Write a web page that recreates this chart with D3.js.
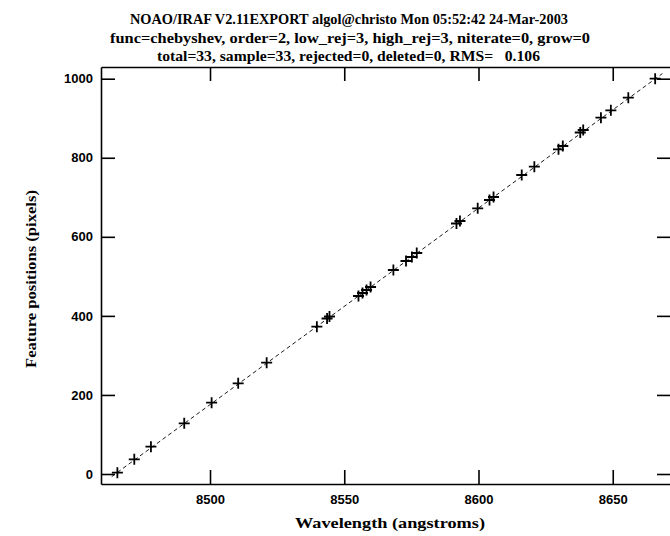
<!DOCTYPE html>
<html lang="en">
    <head>
        <meta charset="utf-8">
        <title>IRAF identify fit</title>
        <script type="text/javascript" src="https://cdn.jsdelivr.net/npm/d3@7"></script>
        <style type="text/css">
            body { margin: 0; background: #fff; }
            .axis path, .axis line { stroke: #000; stroke-width: 1.6; }
            .axis text { font-family: "Liberation Sans", sans-serif; font-weight: bold; font-size: 13px; fill: #000; }
            .fit { fill: none; stroke: #000; stroke-width: 0.9; stroke-dasharray: 4,3; }
            .mark { fill: none; stroke: #000; stroke-width: 1.8; }
            .lbl { font-family: "Liberation Serif", serif; font-weight: bold; font-size: 15.5px; fill: #000; }
        </style>
    </head>
    <body>
        <script type="text/javascript">

        //Width and height
        var w = 670;
        var h = 536;

        //Title lines
        var titleLines = [
            "NOAO/IRAF V2.11EXPORT algol@christo Mon 05:52:42 24-Mar-2003",
            "func=chebyshev, order=2, low_rej=3, high_rej=3, niterate=0, grow=0",
            "total=33, sample=33, rejected=0, deleted=0, RMS=   0.106"
        ];

        //Feature wavelengths (angstroms) and positions (pixels)
        var wavelengths = [8465.5, 8471.8, 8478.0, 8490.4, 8500.6, 8510.5, 8521.1, 8539.8, 8543.6, 8544.5,
                           8555.3, 8556.8, 8558.3, 8559.8, 8568.3, 8573.0, 8575.2, 8577.0, 8591.8, 8593.1,
                           8599.7, 8604.1, 8605.6, 8616.1, 8620.8, 8629.8, 8631.4, 8637.9, 8639.0, 8645.6,
                           8649.3, 8655.8, 8665.8];
        var pixels = [3.3, 37.2, 69.1, 128.3, 180.4, 229.4, 281.6, 372.6, 393.4, 398.4,
                      450.3, 457.9, 465.5, 473.1, 516.1, 538.8, 549.0, 559.1, 633.7, 640.0,
                      672.1, 693.1, 700.7, 756.4, 777.4, 821.4, 829.7, 863.9, 870.2, 901.3,
                      920.1, 951.9, 1000.0];

        //Fitted line end points
        var fitWave = [8463.4, 8668.5];
        var fitPix = [-6.5, 1013];

        //Ticks
        var xTicks = [8500, 8550, 8600, 8650];
        var yTicks = [0, 200, 400, 600, 800, 1000];

        var dataset = wavelengths.map(function(d, i){ return {x: d, y: pixels[i]}; });
        var fitData = fitWave.map(function(d, i){ return {x: d, y: fitPix[i]}; });

        var xScale = d3.scaleLinear()
            .domain([8459.4, 8671.7])
            .range([101, 671]);

        var yScale = d3.scaleLinear()
            .domain([-25.3, 1029.6])
            .range([484, 67]);

        var svg = d3.select("body")
            .append("svg")
            .attr("width", w)
            .attr("height", h);

        //Axes, ticks pointing inward
        svg.append("g")
            .attr("class", "axis")
            .attr("transform", "translate(0,484)")
            .call(d3.axisBottom(xScale).tickValues(xTicks).tickSizeInner(-14).tickSizeOuter(0).tickPadding(11).tickFormat(d3.format("d")));

        svg.append("g")
            .attr("class", "axis")
            .attr("transform", "translate(0,67)")
            .call(d3.axisTop(xScale).tickValues(xTicks).tickSizeInner(-14).tickSizeOuter(0).tickFormat(""));

        svg.append("g")
            .attr("class", "axis")
            .attr("transform", "translate(101,0)")
            .call(d3.axisLeft(yScale).tickValues(yTicks).tickSizeInner(-14).tickSizeOuter(0).tickPadding(8).tickFormat(d3.format("d")));

        svg.append("g")
            .attr("class", "axis")
            .attr("transform", "translate(671,0)")
            .call(d3.axisRight(yScale).tickValues(yTicks).tickSizeInner(-14).tickSizeOuter(0).tickFormat(""));

        //Fit line
        var line = d3.line()
            .x(function(d){ return xScale(d.x); })
            .y(function(d){ return yScale(d.y); });

        svg.append("path")
            .datum(fitData)
            .attr("class", "fit")
            .attr("d", line);

        //Plus markers
        svg.selectAll(".mark")
            .data(dataset)
            .enter()
            .append("path")
            .attr("class", "mark")
            .attr("transform", function(d){ return "translate(" + xScale(d.x) + "," + yScale(d.y) + ")"; })
            .attr("d", "M-5.5,0H5.5M0,-5.5V5.5");

        //Title
        var titleX = [130, 110, 157];
        var titleW = [438, 480, 383];
        svg.selectAll(".title")
            .data(titleLines)
            .enter()
            .append("text")
            .attr("class", "lbl")
            .attr("x", function(d, i){ return titleX[i]; })
            .attr("y", function(d, i){ return 24 + i * 18.5; })
            .attr("textLength", function(d, i){ return titleW[i]; })
            .attr("lengthAdjust", "spacingAndGlyphs")
            .style("white-space", "pre")
            .text(function(d){ return d; });

        //Axis labels
        svg.append("text")
            .attr("class", "lbl")
            .attr("x", 295)
            .attr("y", 528)
            .attr("textLength", 190)
            .attr("lengthAdjust", "spacingAndGlyphs")
            .text("Wavelength (angstroms)");

        svg.append("text")
            .attr("class", "lbl")
            .attr("transform", "translate(36,368) rotate(-90)")
            .attr("textLength", 178)
            .attr("lengthAdjust", "spacingAndGlyphs")
            .text("Feature positions (pixels)");

        </script>
    </body>
</html>
